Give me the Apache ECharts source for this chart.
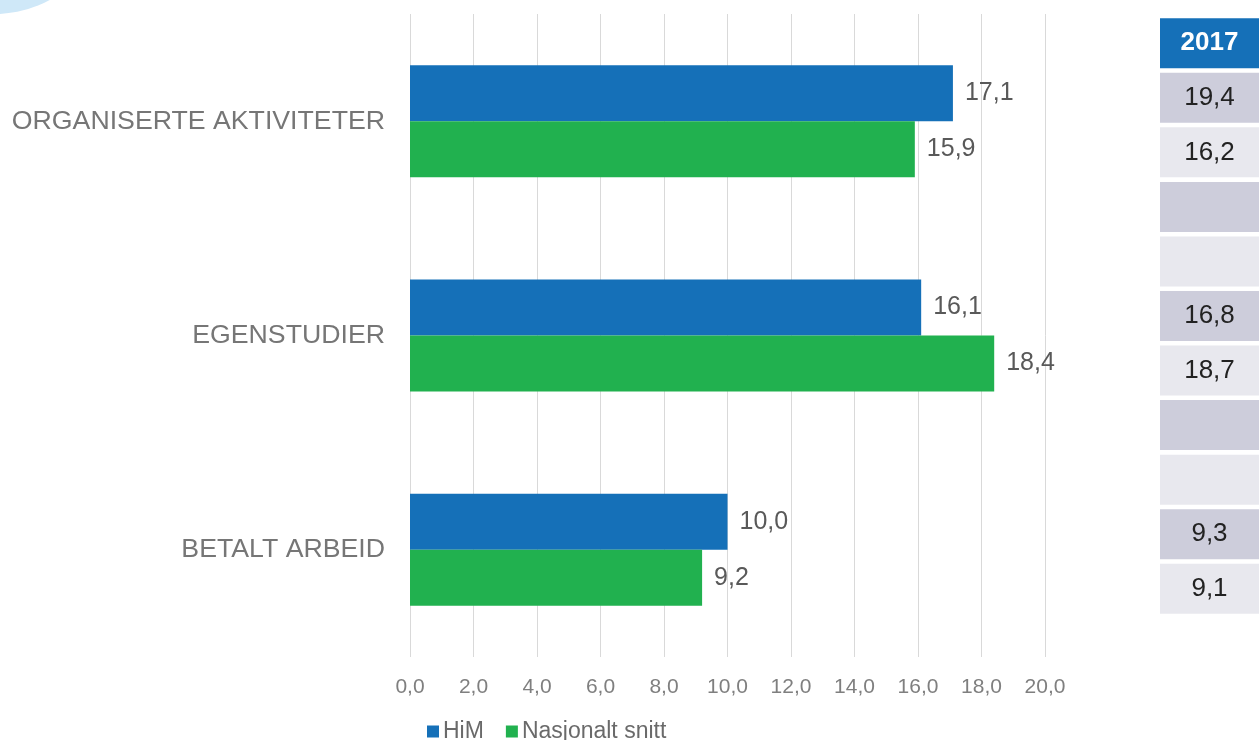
<!DOCTYPE html>
<html>
<head>
<meta charset="utf-8">
<script src="https://cdn.jsdelivr.net/npm/echarts@6/dist/echarts.min.js"></script>
<style>html,body{margin:0;padding:0;background:#fff;}#c{width:1259px;height:740px;}</style>
</head>
<body>
<div id="c"></div>
<script>
const categories = ['ORGANISERTE AKTIVITETER', 'EGENSTUDIER', 'BETALT ARBEID'];
const himValues = [17.1, 16.1, 10.0];
const nationalValues = [15.9, 18.4, 9.2];
const seriesNames = ['HiM', 'Nasjonalt snitt'];
const xTicks = [0, 2, 4, 6, 8, 10, 12, 14, 16, 18, 20];
const tableHeader = '2017';
const tableValues = [19.4, 16.2, null, null, 16.8, 18.7, null, null, 9.3, 9.1];

const fmt = v => (v == null ? '' : Number(v).toFixed(1).replace('.', ','));
const FONT = '"Liberation Sans", Arial, sans-serif';

const tableRows = [tableHeader].concat(tableValues.map(fmt));
const tableCats = tableRows.map((_, i) => 'r' + i);
const tableData = tableRows.map((t, i) => ({
  value: 1,
  itemStyle: { color: i === 0 ? '#1570B8' : (i % 2 === 1 ? '#CDCDDB' : '#E8E8EE') },
  label: i === 0 ? { color: '#fff', fontWeight: 'bold', fontSize: 26 } : {}
}));

const chart = echarts.init(document.getElementById('c'));
chart.setOption({
  animation: false,
  backgroundColor: '#fff',
  textStyle: { fontFamily: FONT },
  graphic: [{
    type: 'circle', z: -1,
    shape: { cx: -5, cy: -100, r: 114 },
    style: { fill: '#CFE8F8' }
  }],
  legend: {
    left: 422, top: 715,
    itemWidth: 12, itemHeight: 12, itemGap: 22,
    icon: 'rect',
    data: seriesNames,
    textStyle: { fontSize: 23, color: '#6A6A6A', fontFamily: FONT, padding: [0, 0, 0, -1] }
  },
  grid: [
    { left: 410, width: 635, top: 14, height: 643, containLabel: false },
    { left: 1160, right: 0, top: 16, height: 600, containLabel: false }
  ],
  xAxis: [{
    gridIndex: 0, type: 'value', min: 0, max: 20, interval: 2,
    axisLine: { show: false }, axisTick: { show: false },
    splitLine: { lineStyle: { color: '#D9D9D9', width: 1 } },
    axisLabel: { formatter: fmt, fontSize: 21, color: '#7F7F7F', margin: 20, fontFamily: FONT }
  }, {
    gridIndex: 1, type: 'value', min: 0, max: 1, show: false
  }],
  yAxis: [{
    gridIndex: 0, type: 'category', data: categories, inverse: true,
    axisLine: { show: false }, axisTick: { show: false },
    axisLabel: { fontSize: 26.7, color: '#767676', margin: 25, fontFamily: FONT }
  }, {
    gridIndex: 1, type: 'category', data: tableCats, inverse: true, show: false
  }],
  series: [{
    name: seriesNames[0], type: 'bar', xAxisIndex: 0, yAxisIndex: 0,
    data: himValues, barWidth: 56, barGap: '0%',
    itemStyle: { color: '#1570B8' },
    label: { show: true, position: 'right', distance: 12, formatter: p => fmt(p.value), fontSize: 25, color: '#595959', fontFamily: FONT }
  }, {
    name: seriesNames[1], type: 'bar', xAxisIndex: 0, yAxisIndex: 0,
    data: nationalValues, barWidth: 56, barGap: '0%',
    itemStyle: { color: '#21B14F' },
    label: { show: true, position: 'right', distance: 12, formatter: p => fmt(p.value), fontSize: 25, color: '#595959', fontFamily: FONT }
  }, {
    name: 'table', type: 'bar', xAxisIndex: 1, yAxisIndex: 1,
    data: tableData, barWidth: 50, silent: true,
    label: { show: true, position: 'inside', formatter: p => tableRows[p.dataIndex], fontSize: 26, color: '#222222', fontFamily: FONT }
  }]
});
</script>
</body>
</html>
